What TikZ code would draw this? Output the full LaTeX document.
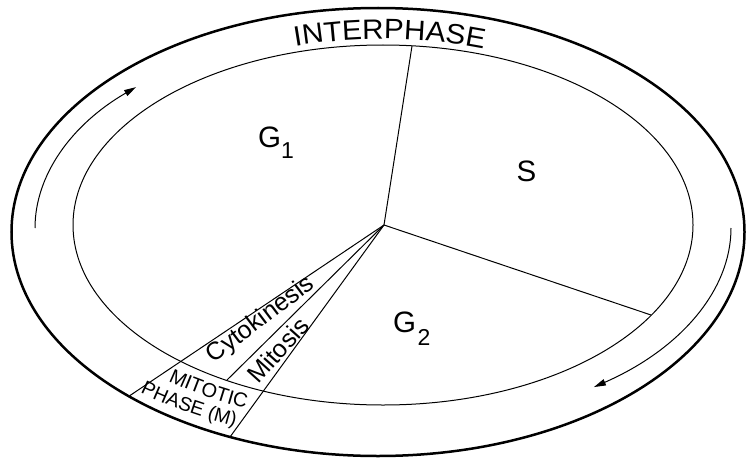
\documentclass[tikz,border=0pt]{standalone}
\usepackage{fontspec}
\setmainfont{Liberation Sans}
\newfontfamily\widefont[FakeStretch=1.06]{Liberation Sans}
\usetikzlibrary{decorations.text,arrows.meta}
\begin{document}
\begin{tikzpicture}[x=1pt,y=1pt,
  thinline/.style={line width=1pt},
  thickline/.style={line width=2.5pt},
  cyclearrow/.style={thinline,-{Triangle[length=12pt,width=6.5pt]}},
  biglabel/.style={inner sep=0pt,font=\fontsize{29.5}{29.5}\selectfont},
  wedgelabel/.style={inner sep=0pt,font=\fontsize{25}{25}\selectfont}]
\useasboundingbox (0,0) rectangle (746,459);
\coordinate (O) at (384,234);
% ellipses
\draw[thickline] (378,227) ellipse [x radius=366.5, y radius=224];
\draw[thinline] (383,234) ellipse [x radius=310, y radius=180];
% sector lines
\coordinate (topend) at (412,413);
\coordinate (rightend) at (651,144);
\coordinate (leftend) at (130,63.5);
\coordinate (midend) at (227,79);
\coordinate (mitoend) at (230,22);
\draw[thinline] (O) -- (topend);
\draw[thinline] (O) -- (rightend);
\draw[thinline] (O) -- (leftend);
\draw[thinline] (O) -- (midend);
\draw[thinline] (O) -- (mitoend);
% cycle arrows
\draw[cyclearrow] (35,231) arc[start angle=180, end angle=135.2, x radius=348, y radius=200];
\draw[cyclearrow] (731,231) arc[start angle=0, end angle=-52.7, x radius=348, y radius=200];
% curved texts
\path[decorate, decoration={text along path, text align=center,
  text={|\widefont\fontsize{28}{28}\selectfont|INTERPHASE}}]
  (383,234) ++(118.7:316 and 186) arc[start angle=118.7, end angle=58.7, x radius=316, y radius=186];
\path[decorate, decoration={text along path, text align=center,
  text={|\fontsize{20}{20}\selectfont|MITOTIC}}]
  (383,234) ++(225:344 and 200) arc[start angle=225, end angle=252, x radius=344, y radius=200];
\path[decorate, decoration={text along path, text align=center,
  text={|\fontsize{19.5}{19.5}\selectfont|PHASE (M)}}]
  (383,234) ++(224:377 and 219) arc[start angle=224, end angle=252, x radius=377, y radius=219];
% phase labels
\node[biglabel, anchor=base west] (g1) at (258,312) {G\raisebox{-11pt}{\fontsize{23}{23}\selectfont 1}};
\node[biglabel, anchor=base] (s) at (526.5,277.5) {S};
\node[biglabel, anchor=base west] (g2) at (393,126.5) {G\kern1.5pt\raisebox{-12.5pt}{\fontsize{23}{23}\selectfont 2}};
\node[wedgelabel, rotate=37] (cyto) at (261,139) {Cytokinesis};
\node[wedgelabel, rotate=48] (mito) at (278,109) {Mitosis};
\end{tikzpicture}
\end{document}
